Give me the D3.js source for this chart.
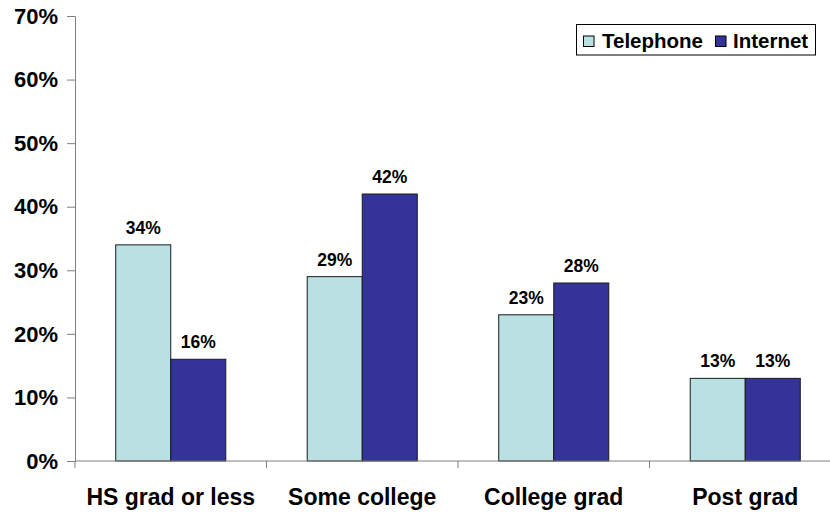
<!DOCTYPE html>
<html><head><meta charset="utf-8">
<script src="https://cdn.jsdelivr.net/npm/d3@7"></script>
<style>body{margin:0;background:#fff}svg{display:block;font-family:Arial,"Liberation Sans",sans-serif;font-weight:bold}</style>
</head><body><svg id="c" width="830" height="513"></svg>
<script>
const categories = ["HS grad or less","Some college","College grad","Post grad"];
const seriesNames = ["Telephone","Internet"];
const telephone = [34,29,23,13];
const internet = [16,42,28,13];
const yTicks = [0,10,20,30,40,50,60,70];
const colors = ["#B9E0E3","#333399"];

const svg = d3.select("#c");
const mLeft = 75, mRight = 841, mTop = 16, mBottom = 461;
const x = d3.scaleBand().domain(categories).range([mLeft,mRight]).paddingInner(0).paddingOuter(0);
const y = d3.scaleLinear().domain([0,70]).range([mBottom,mTop]);
const inner = d3.scaleBand().domain(seriesNames).range([0,x.bandwidth()]).paddingInner(0).paddingOuter(0.74);

const data = categories.map((c,i)=>({c, vals:[telephone[i],internet[i]]}));

// y axis
const ya = svg.append("g").attr("transform",`translate(${mLeft},0)`)
  .call(d3.axisLeft(y).tickValues(yTicks).tickFormat(d=>d+"%").tickSizeOuter(0).tickSize(8).tickPadding(9));
ya.select(".domain").attr("stroke","#808080");
ya.selectAll(".tick line").attr("stroke","#808080");
ya.selectAll("text").attr("font-size",22).attr("font-weight","bold").attr("fill","#000").attr("font-family","Arial, Liberation Sans, sans-serif").attr("dy","0.33em");

// bars
const g = svg.append("g");
data.forEach(d=>{
  seriesNames.forEach((s,j)=>{
    g.append("rect")
      .attr("x", x(d.c)+inner(s)).attr("width", inner.bandwidth())
      .attr("y", y(d.vals[j])).attr("height", y(0)-y(d.vals[j]))
      .attr("fill", colors[j]).attr("stroke","#1a1a1a").attr("stroke-width",1);
    g.append("text")
      .attr("x", x(d.c)+inner(s)+inner.bandwidth()/2)
      .attr("y", y(d.vals[j])-11)
      .attr("text-anchor","middle").attr("font-size",17.5).attr("fill","#000")
      .text(d.vals[j]+"%");
  });
});

// x axis
const xa = svg.append("g").attr("transform",`translate(0,${mBottom})`);
xa.append("line").attr("x1",mLeft).attr("x2",mRight).attr("stroke","#808080");
const bounds = categories.map(c=>x(c)).concat([mRight]);
bounds.forEach(b=>xa.append("line").attr("x1",b).attr("x2",b).attr("y1",0).attr("y2",7).attr("stroke","#808080"));
categories.forEach(c=>{
  xa.append("text").attr("x",x(c)+x.bandwidth()/2).attr("y",44).attr("text-anchor","middle")
    .attr("font-size",23).attr("fill","#000").text(c);
});

// legend
const lg = svg.append("g");
lg.append("rect").attr("x",576.5).attr("y",24.5).attr("width",239).attr("height",30.5).attr("fill","#fff").attr("stroke","#000");
const items = [{n:"Telephone",sx:583,tx:602},{n:"Internet",sx:715,tx:733}];
items.forEach((it,j)=>{
  lg.append("rect").attr("x",it.sx+0.5).attr("y",36).attr("width",10.5).attr("height",10.5).attr("fill",colors[j]).attr("stroke","#000");
  lg.append("text").attr("x",it.tx).attr("y",48.3).attr("font-size",20.5).attr("fill","#000").text(it.n);
});
</script></body></html>
